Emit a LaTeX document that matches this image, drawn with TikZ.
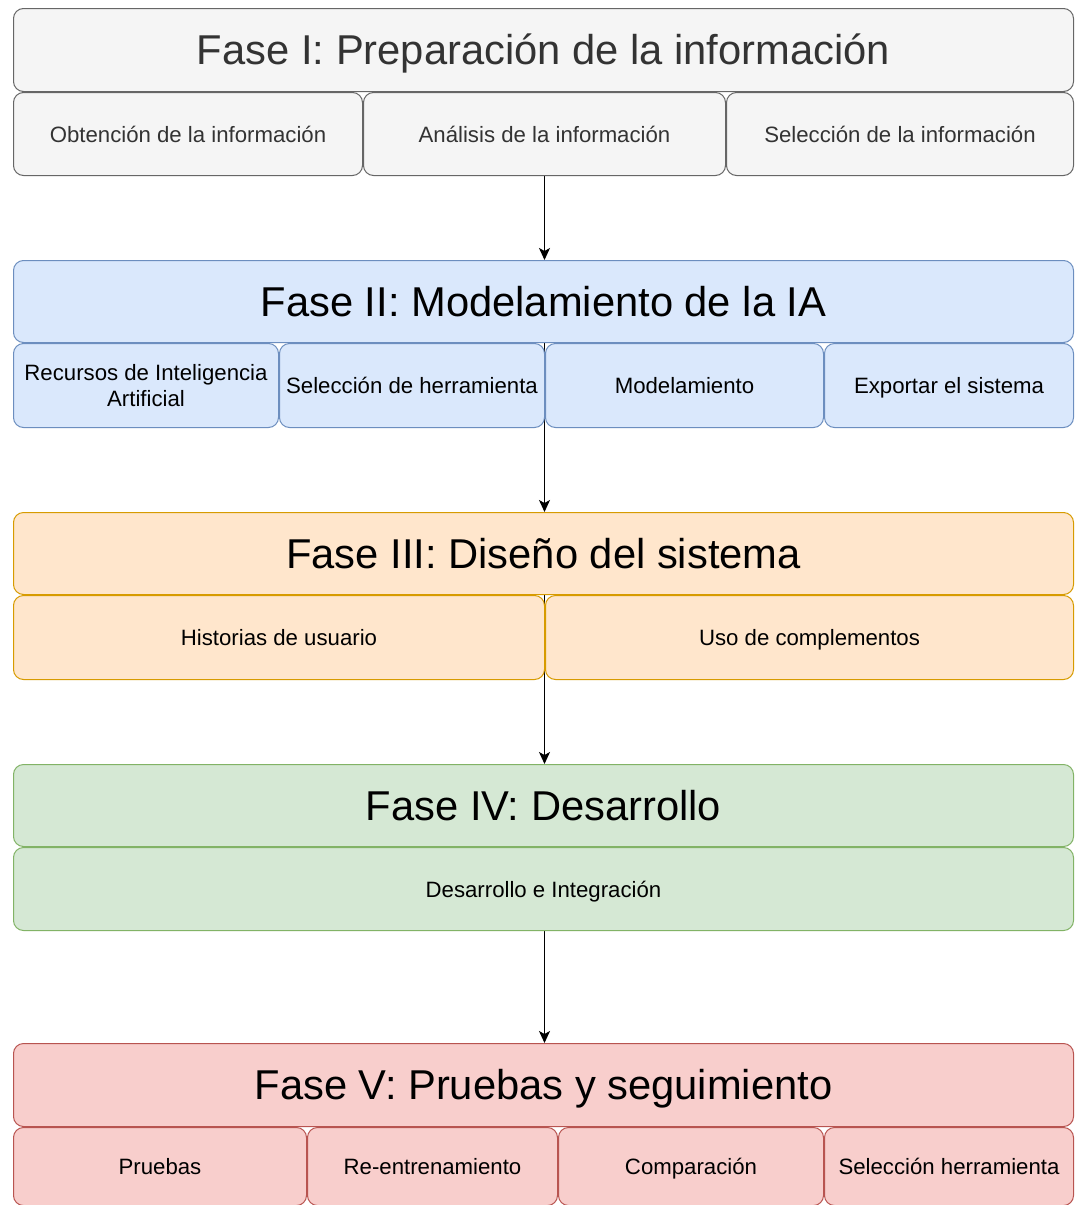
\documentclass[tikz,border=0pt]{standalone}
\usepackage{fontspec}
\setmainfont{Liberation Sans}
\usetikzlibrary{arrows.meta,backgrounds}
\definecolor{grayfill}{HTML}{F5F5F5}\definecolor{graydraw}{HTML}{666666}\definecolor{graytext}{HTML}{333333}
\definecolor{bluefill}{HTML}{DAE8FC}\definecolor{bluedraw}{HTML}{6C8EBF}
\definecolor{orangefill}{HTML}{FFE6CC}\definecolor{orangedraw}{HTML}{D79B00}
\definecolor{greenfill}{HTML}{D5E8D4}\definecolor{greendraw}{HTML}{82B366}
\definecolor{redfill}{HTML}{F8CECC}\definecolor{reddraw}{HTML}{B85450}
\tikzset{
  box/.style={draw, rounded corners=10pt, line width=1pt, anchor=north west, inner sep=2pt, align=center, text=black},
  header/.style={box, minimum height=83pt, font=\fontsize{41.7}{50}\selectfont, text height=29.9pt, text depth=0pt},
  sub/.style={box, minimum height=84pt, font=\fontsize{22.2}{26}\selectfont, text height=16.4pt, text depth=0pt},
  twoline/.style={text height=, text depth=},
  grayc/.style={fill=grayfill, draw=graydraw, text=graytext},
  bluec/.style={fill=bluefill, draw=bluedraw},
  orangec/.style={fill=orangefill, draw=orangedraw},
  greenc/.style={fill=greenfill, draw=greendraw},
  redc/.style={fill=redfill, draw=reddraw},
  conn/.style={draw=black, line width=1.4pt, -{Stealth[length=12pt,width=11pt,inset=3pt]}}
}
\begin{document}
\begin{tikzpicture}[x=1pt,y=-1pt]
\useasboundingbox (0,0) rectangle (1074,1205);
\begin{scope}
\clip (0,0) rectangle (1074,1205);
% Phase I
\node[header,grayc,minimum width=1060pt] (h1) at (13,8) {Fase I: Preparación de la información};
\node[sub,grayc,minimum width=349pt,minimum height=83pt] (s11) at (13,92) {Obtención de la información};
\node[sub,grayc,minimum width=362pt,minimum height=83pt] (s12) at (363,92) {Análisis de la información};
\node[sub,grayc,minimum width=347pt,minimum height=83pt] (s13) at (726,92) {Selección de la información};
% Phase II
\node[header,bluec,minimum width=1060pt,minimum height=82pt] (h2) at (13,260) {Fase II: Modelamiento de la IA};
\node[sub,bluec,twoline,minimum width=265pt] (s21) at (13,343) {Recursos de Inteligencia\\Artificial};
\node[sub,bluec,minimum width=265pt] (s22) at (279,343) {Selección de herramienta};
\node[sub,bluec,minimum width=278pt] (s23) at (545,343) {Modelamiento};
\node[sub,bluec,minimum width=249pt] (s24) at (824,343) {Exportar el sistema};
% Phase III
\node[header,orangec,minimum width=1060pt,minimum height=82pt] (h3) at (13,512) {Fase III: Diseño del sistema};
\node[sub,orangec,minimum width=531pt] (s31) at (13,595) {Historias de usuario};
\node[sub,orangec,minimum width=528pt] (s32) at (545,595) {Uso de complementos};
% Phase IV
\node[header,greenc,minimum width=1060pt,minimum height=82pt] (h4) at (13,764) {Fase IV: Desarrollo};
\node[sub,greenc,minimum width=1060pt,minimum height=83pt] (s41) at (13,847) {Desarrollo e Integración};
% Phase V
\node[header,redc,minimum width=1060pt] (h5) at (13,1043) {Fase V: Pruebas y seguimiento};
\node[sub,redc,minimum width=293pt,minimum height=78pt] (s51) at (13,1127) {Pruebas};
\node[sub,redc,minimum width=250pt,minimum height=78pt] (s52) at (307,1127) {Re-entrenamiento};
\node[sub,redc,minimum width=265pt,minimum height=78pt] (s53) at (558,1127) {Comparación};
\node[sub,redc,minimum width=249pt,minimum height=78pt] (s54) at (824,1127) {Selección herramienta};
\end{scope}
\begin{scope}[on background layer]
\fill[white] (0,0) rectangle (1074,1205);
\draw[conn] ([xshift=1pt]h1.south) -- ([xshift=1pt]h2.north);
\draw[conn] ([xshift=1pt]h2.south) -- ([xshift=1pt]h3.north);
\draw[conn] ([xshift=1pt]h3.south) -- ([xshift=1pt]h4.north);
\draw[conn] ([xshift=1pt]h4.south) -- ([xshift=1pt]h5.north);
\end{scope}
\end{tikzpicture}
\end{document}
